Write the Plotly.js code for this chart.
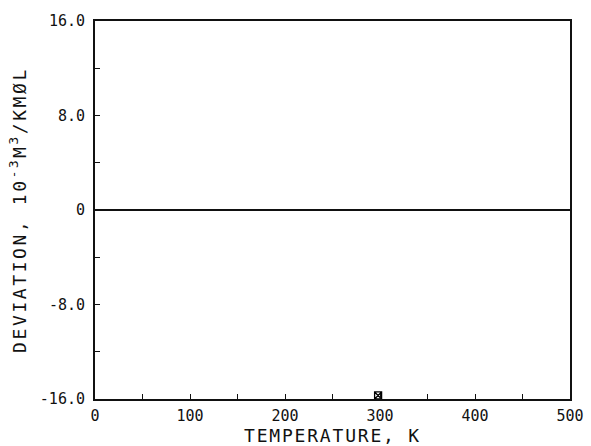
<!DOCTYPE html>
<html>
<head>
<meta charset="utf-8">
<script src="https://cdn.plot.ly/plotly-3.0.1.min.js"></script>
<style>
html, body { margin: 0; padding: 0; background: #fff; }
#chart { width: 591px; height: 446px; }
#chart .xtitle { letter-spacing: 1.8px; }
#chart .ytitle { letter-spacing: 2.6px; }
</style>
</head>
<body>
<div id="chart"></div>
<script>
// Data
const temperature = [298];
const deviation = [-15.7];

const xTickVals = [0, 100, 200, 300, 400, 500];
const xTickText = ['0', '100', '200', '300', '400', '500'];
const yTickVals = [16, 8, 0, -8, -16];
const yTickText = ['16.0', '8.0', '0', '-8.0', '-16.0'];

const font = 'DejaVu Sans Mono, Liberation Mono, monospace';

const traces = [{
  x: temperature,
  y: deviation,
  type: 'scatter',
  mode: 'markers',
  marker: { symbol: 'square-x-open', size: 7, color: '#000', line: { width: 1.3, color: '#000' } },
  cliponaxis: false,
  showlegend: false
}];

const layout = {
  width: 591,
  height: 446,
  margin: { l: 95, r: 21, t: 21, b: 47 },
  paper_bgcolor: '#fff',
  plot_bgcolor: '#fff',
  font: { family: font, color: '#111', size: 15 },
  showlegend: false,
  xaxis: {
    range: [0, 500],
    showgrid: false,
    zeroline: false,
    showline: true,
    linecolor: '#111',
    linewidth: 2,
    mirror: true,
    ticks: 'inside',
    ticklen: 5,
    tickwidth: 1,
    tickcolor: '#111',
    tickvals: xTickVals,
    ticktext: xTickText,
    ticklabelstandoff: 2,
    tickfont: { family: font, size: 15, color: '#111' },
    minor: { dtick: 50, tick0: 0, ticks: 'inside', ticklen: 5, tickwidth: 1, tickcolor: '#111', showgrid: false },
    title: { text: 'TEMPERATURE, K', font: { family: font, size: 18, color: '#111' }, standoff: 0 }
  },
  yaxis: {
    range: [-16, 16],
    showgrid: false,
    zeroline: true,
    zerolinecolor: '#111',
    zerolinewidth: 2,
    showline: true,
    linecolor: '#111',
    linewidth: 2,
    mirror: true,
    ticks: 'inside',
    ticklen: 5,
    tickwidth: 1,
    tickcolor: '#111',
    tickvals: yTickVals,
    ticktext: yTickText,
    ticklabelstandoff: 5,
    tickfont: { family: font, size: 15, color: '#111' },
    minor: { dtick: 4, tick0: 0, ticks: 'inside', ticklen: 5, tickwidth: 1, tickcolor: '#111', showgrid: false },
    title: { text: 'DEVIATION, 10<sup>-3</sup>M<sup>3</sup>/KMØL', font: { family: font, size: 18, color: '#111' }, standoff: 9 }
  }
};

Plotly.newPlot('chart', traces, layout, { staticPlot: true, displayModeBar: false });
</script>
</body>
</html>
